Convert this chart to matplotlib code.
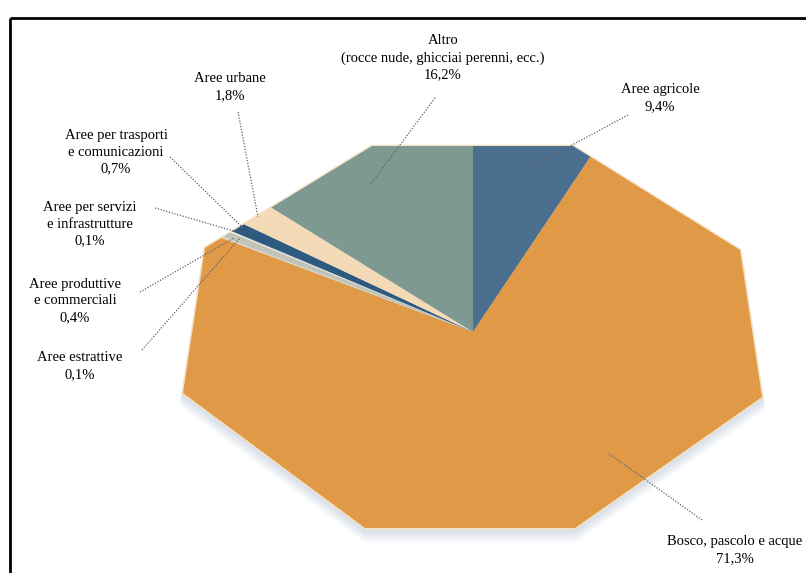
import matplotlib
matplotlib.use("Agg")
import matplotlib.pyplot as plt
from matplotlib.patches import Polygon
import numpy as np

# ---- data ----
categories = ["Aree agricole", "Bosco, pascolo e acque", "Aree estrattive",
              "Aree produttive\ne commerciali", "Aree per servizi\ne infrastrutture",
              "Aree per trasporti\ne comunicazioni", "Aree urbane",
              "Altro\n(rocce nude, ghicciai perenni, ecc.)"]
values = [9.4, 71.3, 0.1, 0.4, 0.1, 0.7, 1.8, 16.2]
value_labels = ["9,4%", "71,3%", "0,1%", "0,4%", "0,1%", "0,7%", "1,8%", "16,2%"]
colors = ["#4b6f8e", "#e09a47", "#ddd6c4", "#bfc3b8", "#efe9dc",
          "#2f5a80", "#f3d9b6", "#7e9992"]

W, H = 806, 573
fig = plt.figure(figsize=(W / 100, H / 100), dpi=100)
ax = fig.add_axes([0, 0, 1, 1])

def P(x, y):
    return (x, H - y)

# octagonal outline of the pie (pixel coords)
octa_px = [(372, 146), (573, 146), (740, 250), (762, 397),
           (575, 528), (365, 528), (183, 393), (205, 248)]
octa = [P(x, y) for x, y in octa_px]
center = P(473, 332)

wedges, _ = ax.pie(values, colors=colors, startangle=90, counterclock=False,
                   center=center, radius=600, frame=True,
                   wedgeprops=dict(linewidth=0))
ax.set_xlim(0, W)
ax.set_ylim(0, H)
ax.set_aspect("auto")
ax.axis("off")

# soft shadow
cx, cy = center
for i in range(14):
    s = 1.0 + 0.001 * i
    sh = [(cx + (x - cx) * s, cy + (y - cy) * s - 0.9 * i) for x, y in octa]
    ax.add_patch(Polygon(sh, closed=True, facecolor="#9db0cb", edgecolor="none",
                         alpha=0.035, zorder=1))

# light rim
ax.add_patch(Polygon(octa, closed=True, facecolor="none", edgecolor="#f6e2c6",
                     linewidth=2.0, zorder=2))

clip = Polygon(octa, closed=True, transform=ax.transData)
for w in wedges:
    w.set_zorder(3)
    w.set_clip_on(True)
    w.set_clip_path(clip)

# labels
label_pos = [(660, 98), (735, 550), (80, 366), (75, 301), (90, 224),
             (116, 152), (230, 87), (443, 58)]
leaders = [((628, 115), (522, 172)),
           ((702, 520), (608, 453)),
           ((142, 350), (240, 238)),
           ((140, 292), (234, 238)),
           ((155, 208), (237, 232)),
           ((170, 157), (243, 228)),
           ((238, 112), (258, 217)),
           ((435, 98), (370, 185))]

font = dict(family=["Liberation Serif", "DejaVu Serif"], fontsize=10.5,
            color="#000000")
for cat, vl, (x, y), (a, b) in zip(categories, value_labels, label_pos, leaders):
    ax.text(*P(x, y), cat + "\n" + vl, ha="center", va="center",
            linespacing=1.38, zorder=5, **font)
    ax.plot([P(*a)[0], P(*b)[0]], [P(*a)[1], P(*b)[1]], linestyle=(0, (1, 1.3)),
            color="#606060", linewidth=0.9, zorder=4)

# frame (top and left border)
ax.plot([P(10, 18)[0], P(806, 18)[0]], [P(10, 18)[1], P(806, 18)[1]],
        color="black", linewidth=2, zorder=6, solid_capstyle="butt")
ax.plot([P(10, 18)[0], P(10, 573)[0]], [P(10, 18)[1], P(10, 573)[1]],
        color="black", linewidth=2, zorder=6, solid_capstyle="butt")

fig.savefig("out.png", dpi=100)
